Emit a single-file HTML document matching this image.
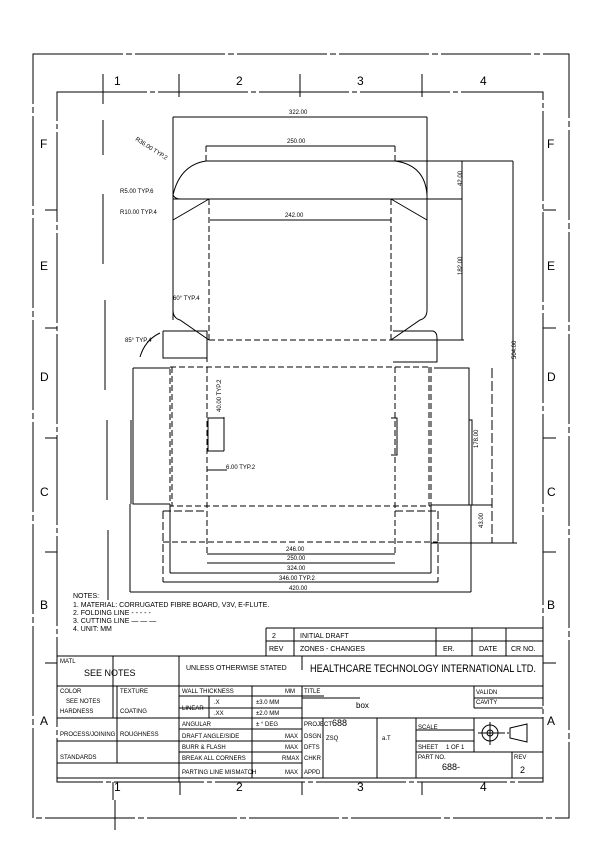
<!DOCTYPE html>
<html><head><meta charset="utf-8"><style>
html,body{margin:0;padding:0;background:#fff}
svg{display:block}
text{font-family:"Liberation Sans",sans-serif;fill:#000}
.s{font-size:6px}.m{font-size:7px}.l{font-size:12px}
</style></head><body>
<svg width="609" height="852" viewBox="0 0 609 852" xmlns="http://www.w3.org/2000/svg">
<rect width="609" height="852" fill="#fff"/>
<g stroke="#000" stroke-width="1" fill="none">
<path d="M33 54H569V818H33Z" stroke-dasharray="90 3 6 3"/>
<path d="M57 92H543V782H57Z" stroke-dasharray="90 3 5 3"/>
<path d="M103 74V104M179 74V97M300 74V97M422 74V97"/>
<path d="M103 120V155M103 194V264M105 300V390M107 420V500M108 530V600"/>
<path d="M113 782V800M180 782V795M302 782V795M422 782V795M115 800V830"/>
<path d="M45 210H57M45 328H57M45 438H57M45 552H57M45 663H57"/>
<path d="M543 210H556M543 328H556M543 438H556M543 552H556M543 663H556"/>
<path d="M173 117H427M173 117V320M427 117V310"/>
<path d="M206 146H395" />
<path d="M206 161H513M206 161Q180 165 173 195Q175 199 180 199M395 161Q425 165 427 195V199"/>
<path d="M173 199H427M462 161V340M427 199H462" />
<path d="M210 220H391"/>
<path d="M209 199V340M391 199V340M206 146V161M395 146V161" stroke-dasharray="6 3"/>
<path d="M209 199L173 220M391 199L427 220M173 310Q173 318 180 320L209 340M427 310Q427 318 420 320L391 340"/>
<path d="M209 340H391M206 146H395" stroke-dasharray="6 3"/>
<path d="M391 340H464"/>
<path d="M163 331H207V362M163 331V358H207M140 357Q145 340 160 333"/>
<path d="M393 331H433Q437 332 437 338V362H393"/>
<path d="M513 161V543M431 543H517M431 505H492"/>
<path d="M170 367H431V506H170Z" stroke-dasharray="6 3"/>
<path d="M172 367V506M429 367V506" stroke-dasharray="6 3"/>
<path d="M207 367V555M395 367V555" stroke-dasharray="6 3"/>
<path d="M133 368H170M133 368V504H170M131 420V504"/>
<path d="M434 368H469V505H434M469 420H472V505"/>
<path d="M492 368V543" stroke-dasharray="10 3"/>
<path d="M163 511V582M438 511V582M163 511H207M395 511H438" stroke-dasharray="8 3"/>
<path d="M163 542H438" stroke-dasharray="6 3"/>
<path d="M208 418V451H224M224 451V417M208 418H224" />
<path d="M391 418H397V455H391"/>
<path d="M207 554H395M207 563H395M170 573H431M163 582H438M130 592H471M130 504V592M471 505V592M170 506V573M431 506V573"/>
<path d="M207 470H227"/>
<path d="M266 628H543M266 641H543M266 656V628M294 628V656M436 628V656M472 628V656M506 628V656"/>
<path d="M57 656H543M179 656V782M302 656V670"/>
<path d="M57 686H543M179 696H302M209 696V718M179 708H302M57 718H302M179 729H302M57 741H302M179 752H302M57 763H302M57 778H543"/>
<path d="M117 686V763M113 656V718M252 686V778M302 686V778M302 696H324M302 718H543M323 718V778M377 718V778M416 718V778M474 718V752M416 730H474M416 741H474M416 752H543M512 752V778M302 698H360M474 698H543M474 686V708M474 708H543"/>
<circle cx="490" cy="733" r="8"/><circle cx="490" cy="733" r="3"/>
<path d="M478 733H503M490 722V745M510 728L527 724V742L510 738Z"/>
<path d="M503 733H510" stroke-dasharray="2 2"/>
</g>
<g class="l">
<text x="114" y="85">1</text><text x="236" y="85">2</text><text x="357" y="85">3</text><text x="480" y="85">4</text>
<text x="114" y="791">1</text><text x="236" y="791">2</text><text x="357" y="791">3</text><text x="480" y="791">4</text>
<text x="40" y="148">F</text><text x="40" y="270">E</text><text x="40" y="381">D</text><text x="40" y="496">C</text><text x="40" y="609">B</text><text x="40" y="725">A</text>
<text x="547" y="148">F</text><text x="547" y="270">E</text><text x="547" y="381">D</text><text x="547" y="496">C</text><text x="547" y="609">B</text><text x="547" y="725">A</text>
</g>
<g class="s">
<text x="289" y="114">322.00</text><text x="287" y="143">250.00</text><text x="285" y="217">242.00</text>
<text transform="translate(462,186) rotate(-90)">42.00</text>
<text transform="translate(462,275) rotate(-90)">182.00</text>
<text transform="translate(516,359) rotate(-90)">504.00</text>
<text transform="translate(478,448) rotate(-90)">178.00</text>
<text transform="translate(483,528) rotate(-90)">43.00</text>
<text transform="translate(221,412) rotate(-90)">40.00 TYP.2</text>
<text x="226" y="469">6.00 TYP.2</text>
<text x="286" y="551">246.00</text><text x="287" y="560">250.00</text><text x="287" y="570">324.00</text><text x="279" y="580">346.00 TYP.2</text><text x="289" y="590">420.00</text>
<text transform="translate(135,140) rotate(33)">R36.00 TYP.2</text>
<text x="120" y="193">R5.00 TYP.6</text><text x="120" y="214">R10.00 TYP.4</text>
<text x="173" y="300">60° TYP.4</text><text x="125" y="342">85° TYP.4</text>
</g>
<g class="m">
<text x="73" y="598">NOTES:</text>
<text x="73" y="607">1. MATERIAL: CORRUGATED FIBRE BOARD, V3V, E-FLUTE.</text>
<text x="73" y="615">2. FOLDING LINE  - - - - -</text>
<text x="73" y="623">3. CUTTING LINE  — — —</text>
<text x="73" y="631">4. UNIT: MM</text>
<text x="272" y="638">2</text><text x="300" y="638">INITIAL DRAFT</text>
<text x="269" y="651">REV</text><text x="300" y="651">ZONES - CHANGES</text><text x="443" y="651">ER.</text><text x="479" y="651">DATE</text><text x="511" y="651">CR NO.</text>
<text x="60" y="663" class="s">MATL</text>
<text x="186" y="670">UNLESS OTHERWISE STATED</text>
<text x="60" y="693" class="s">COLOR</text><text x="120" y="693" class="s">TEXTURE</text><text x="66" y="703" class="s">SEE NOTES</text>
<text x="60" y="713" class="s">HARDNESS</text><text x="120" y="713" class="s">COATING</text>
<text x="60" y="736" class="s">PROCESS/JOINING</text><text x="120" y="736" class="s">ROUGHNESS</text>
<text x="60" y="759" class="s">STANDARDS</text>
<text x="182" y="693" class="s">WALL THICKNESS</text><text x="285" y="693" class="s">MM</text>
<text x="182" y="710" class="s">LINEAR</text><text x="214" y="704" class="s">.X</text><text x="214" y="715" class="s">.XX</text>
<text x="256" y="704" class="s">±3.0  MM</text><text x="256" y="715" class="s">±2.0  MM</text>
<text x="182" y="726" class="s">ANGULAR</text><text x="256" y="726" class="s">±   ° DEG</text>
<text x="182" y="738" class="s">DRAFT ANGLE/SIDE</text><text x="285" y="738" class="s">MAX</text>
<text x="182" y="749" class="s">BURR &amp; FLASH</text><text x="285" y="749" class="s">MAX</text>
<text x="182" y="760" class="s">BREAK ALL CORNERS</text><text x="282" y="760" class="s">RMAX</text>
<text x="182" y="774" class="s">PARTING LINE MISMATCH</text><text x="285" y="774" class="s">MAX</text>
<text x="304" y="693" class="s">TITLE</text>
<text x="304" y="726" class="s">PROJECT</text><text x="304" y="738" class="s">DSGN</text><text x="304" y="749" class="s">DFTS</text><text x="304" y="760" class="s">CHKR</text><text x="304" y="774" class="s">APPD</text>
<text x="418" y="729" class="s">SCALE</text><text x="418" y="749" class="s">SHEET</text><text x="446" y="749" class="s">1 OF 1</text>
<text x="418" y="759" class="s">PART NO.</text><text x="514" y="759" class="s">REV</text>
<text x="476" y="694" class="s">VALIDN</text><text x="476" y="704" class="s">CAVITY</text>
</g>
<text x="84" y="676" style="font-size:9px">SEE NOTES</text>
<text x="310" y="672" style="font-size:11px" textLength="226" lengthAdjust="spacingAndGlyphs">HEALTHCARE TECHNOLOGY INTERNATIONAL LTD.</text>
<text x="356" y="708" style="font-size:8px">box</text>
<text x="332" y="726" style="font-size:9px">688</text>
<text x="442" y="770" style="font-size:9px">688-</text>
<text x="520" y="773" style="font-size:9px">2</text>
<text x="326" y="740" class="s">ZSQ</text><text x="382" y="740" class="s">a.T</text>
</svg>
</body></html>
